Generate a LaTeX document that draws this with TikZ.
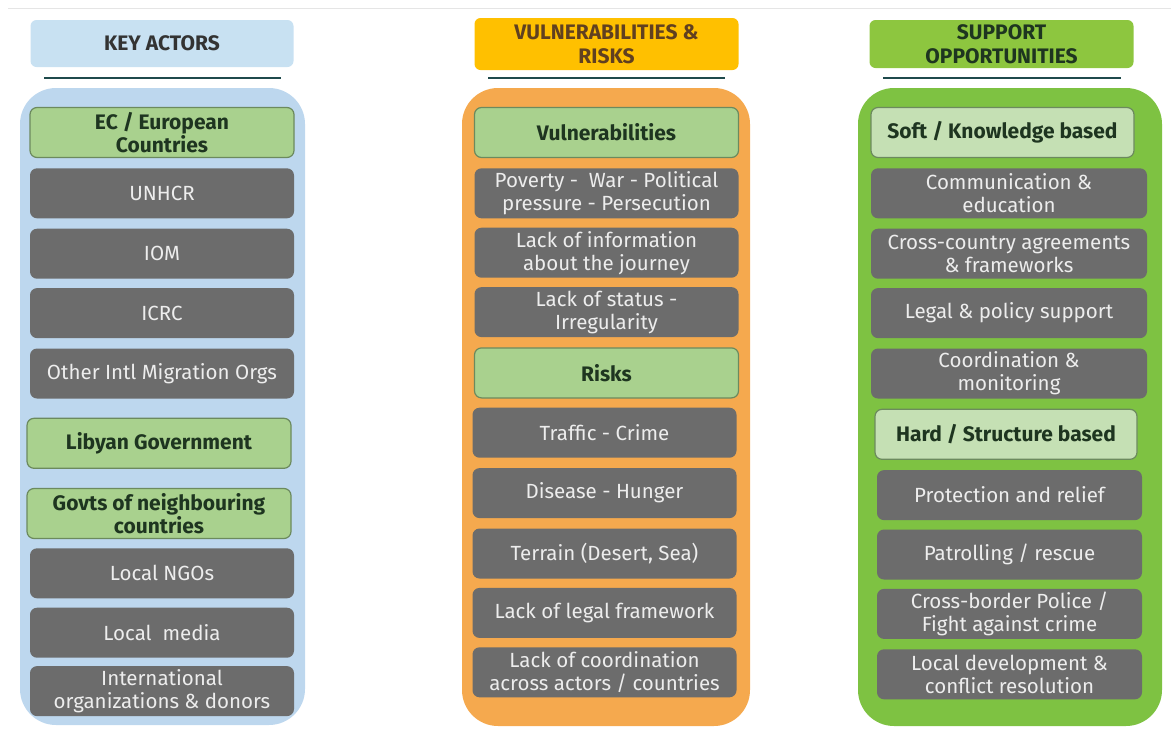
\documentclass[tikz,border=0pt]{standalone}
\usepackage{fontspec}
\setmainfont{Fira Sans}
\usepackage{xcolor}
\usepackage{tikz}
\usetikzlibrary{positioning}

\definecolor{actorpanel}{HTML}{BDD7EE}
\definecolor{actorhead}{HTML}{C8E1F2}
\definecolor{riskpanel}{HTML}{F5A94E}
\definecolor{riskhead}{HTML}{FFC000}
\definecolor{suppanel}{HTML}{7EC242}
\definecolor{suphead}{HTML}{8DC63F}
\definecolor{itemgray}{HTML}{6C6C6C}
\definecolor{groupgreen}{HTML}{A9D18E}
\definecolor{grouplight}{HTML}{C5E0B4}
\definecolor{groupline}{HTML}{6C8A5E}
\definecolor{greentext}{HTML}{1E3520}
\definecolor{rulecol}{HTML}{1F4A4C}

\begin{document}
\begin{tikzpicture}[x=1pt, y=-1pt, node distance=10pt,
    head/.style={rounded corners=6pt, minimum width=263pt, minimum height=48pt, inner sep=1pt, align=center, font=\fontsize{21}{24}\selectfont\bfseries},
    item/.style={rounded corners=7pt, fill=itemgray, text=white!93!black, minimum width=264pt, minimum height=50pt, inner sep=1pt, align=center, font=\fontsize{20.5}{23}\selectfont},
    group/.style={item, fill=groupgreen, draw=groupline, line width=1.2pt, text=greentext, font=\fontsize{21}{23}\selectfont\bfseries},
    panel/.style={rounded corners=36pt},
    rule/.style={draw=rulecol, line width=1.3pt}]

    \useasboundingbox (0,0) rectangle (1171,729);
    \draw [gray!20, line width=1pt] (8,8) -- (1171,8);

    % panels
    \fill [panel, actorpanel] (20,88) rectangle (305,725);
    \fill [panel, riskpanel] (462,88) rectangle (750,726);
    \fill [panel, suppanel] (858,88) rectangle (1162,726);

    % headers
    \node [head, fill=actorhead, text=black!80, minimum height=47pt] (headA) at (162,43.5) {KEY ACTORS};
    \node [head, fill=riskhead, text=brown!50!black, minimum height=52pt, minimum width=264pt] (headB) at (606.5,44) {VULNERABILITIES \&\\RISKS};
    \node [head, fill=suphead, text=greentext, minimum width=264pt] (headC) at (1001.5,44) {SUPPORT\\OPPORTUNITIES};
    \draw [rule] (44,78) -- (281,78);
    \draw [rule] (488,78) -- (725,78);
    \draw [rule] (883,78) -- (1121,78);

    % key actors
    \node [group] (ec) at (162,132.5) {EC / European\\Countries};
    \node [item, below=of ec] (unhcr) {UNHCR};
    \node [item, below=of unhcr] (iom) {IOM};
    \node [item, below=9pt of iom] (icrc) {ICRC};
    \node [item, below=of icrc] (other) {Other Intl Migration Orgs};
    \node [group, below=19pt of other, xshift=-3pt] (libya) {Libyan Government};
    \node [group, below=19pt of libya] (neigh) {Govts of neighbouring\\countries};
    \node [item, below=9pt of neigh, xshift=3pt] (ngo) {Local NGOs};
    \node [item, below=9pt of ngo] (media) {Local\ \ media};
    \node [item, below=8pt of media] (donors) {International\\organizations \& donors};

    % vulnerabilities & risks
    \node [group] (vuln) at (606.5,132.5) {Vulnerabilities};
    \node [item, below=of vuln] (poverty) {Poverty -\ \ War - Political\\pressure - Persecution};
    \node [item, below=9pt of poverty] (info) {Lack of information\\about the journey};
    \node [item, below=9pt of info] (status) {Lack of status -\\Irregularity};
    \node [group, below=of status] (risks) {Risks};
    \node [item, below=9pt of risks, xshift=-2pt] (traffic) {Traffic - Crime};
    \node [item, below=of traffic] (disease) {Disease - Hunger};
    \node [item, below=of disease] (terrain) {Terrain (Desert, Sea)};
    \node [item, below=9pt of terrain] (legal) {Lack of legal framework};
    \node [item, below=9pt of legal] (coord) {Lack of coordination\\across actors / countries};

    % support opportunities
    \node [group, fill=grouplight, minimum width=263pt] (soft) at (1002.5,132.5) {Soft / Knowledge based};
    \node [item, minimum width=276pt, below=of soft, xshift=6.5pt] (comm) {Communication \&\\education};
    \node [item, minimum width=276pt, below=of comm] (agree) {Cross-country agreements\\\& frameworks};
    \node [item, minimum width=276pt, below=9pt of agree] (policy) {Legal \& policy support};
    \node [item, minimum width=276pt, below=of policy] (monitor) {Coordination \&\\monitoring};
    \node [group, fill=grouplight, minimum width=262pt, below=of monitor, xshift=-3pt] (hard) {Hard / Structure based};
    \node [item, minimum width=265pt, below=of hard, xshift=3.5pt] (relief) {Protection and relief};
    \node [item, minimum width=265pt, below=9pt of relief] (rescue) {Patrolling / rescue};
    \node [item, minimum width=265pt, below=9pt of rescue] (police) {Cross-border Police /\\Fight against crime};
    \node [item, minimum width=265pt, below=of police] (develop) {Local development \&\\conflict resolution};
\end{tikzpicture}
\end{document}
